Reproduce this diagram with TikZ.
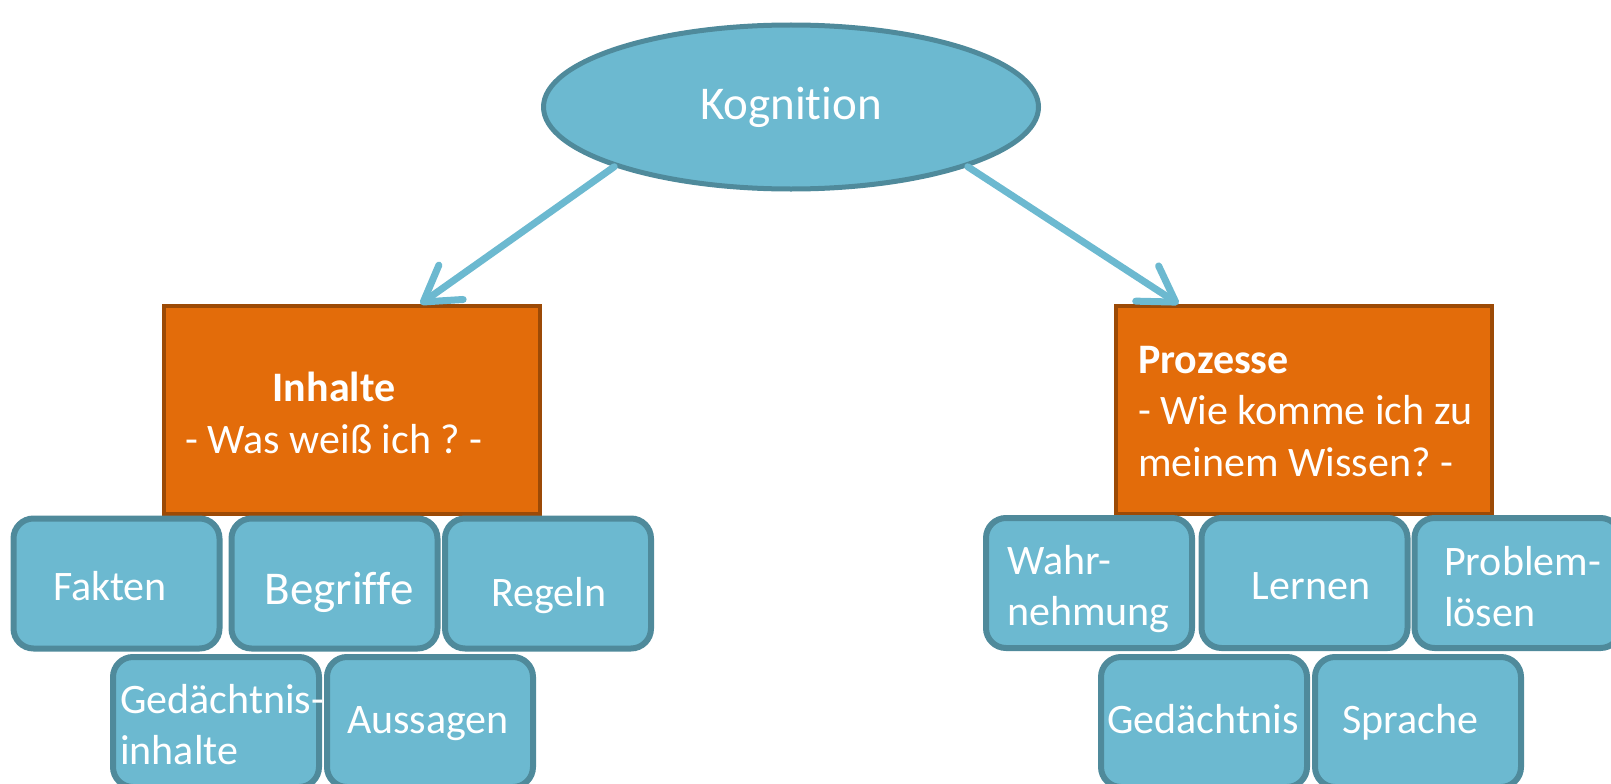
\documentclass[tikz,border=0pt]{standalone}
\usepackage{fontspec}
\setmainfont{Carlito}[RawFeature={-liga;-clig;-dlig}]
\usetikzlibrary{shapes.geometric,arrows.meta,calc}
\frenchspacing

\definecolor{kogblue}{HTML}{6CB9D0}
\definecolor{kogblueline}{HTML}{4F8A9B}
\definecolor{kogorange}{HTML}{E36C0A}
\definecolor{kogorangeline}{HTML}{9C4A06}

\begin{document}
\begin{tikzpicture}[x=1pt,y=-1pt,
  oval/.style={ellipse,fill=kogblue,draw=kogblueline,line width=5pt,
    minimum width=495pt,minimum height=164pt,inner sep=0pt,text=white,
    font=\fontsize{47}{56}\selectfont},
  mainbox/.style={rectangle,fill=kogorange,draw=kogorangeline,line width=4pt,
    minimum width=376pt,minimum height=208pt,inner sep=0pt},
  itembox/.style={rectangle,rounded corners=20pt,fill=kogblue,draw=kogblueline,
    line width=6pt,minimum width=206pt,minimum height=130pt,inner sep=0pt},
  boxtext/.style={text=white,inner sep=0pt,font=\fontsize{42}{51.5}\selectfont},
  kogarrow/.style={draw=kogblue,line width=7pt,line cap=round,
    -{Straight Barb[length=34pt,width=42pt,round]}}]
\useasboundingbox (0,0) rectangle (1611,784);

% Oberbegriff
\node[oval] (kog) at (791,107) {Kognition};

% Inhalte und Prozesse
\node[mainbox] (inh) at (352,410) {};
\node[mainbox] (pro) at (1304,410) {};
\node[boxtext,anchor=north,align=center] (inhtxt) at (334,372) {\textbf{Inhalte}\\- Was weiß ich ? -};
\node[boxtext,anchor=north west,align=left] (protxt) at (1138,346) {\textbf{Prozesse}\\- Wie komme ich zu\\meinem Wissen? -};

\coordinate (inhtip) at ($(inh.north west)!0.68!(inh.north east)$);
\coordinate (protip) at ($(pro.north west)!0.17!(pro.north east)$);
\draw[kogarrow] (kog.south west) -- (inhtip);
\draw[kogarrow] (kog.south east) -- (protip);

% Inhalte
\node[itembox] (fakten) at (116.5,583.5) {};
\node[itembox] (begriffe) at (334.5,583.5) {};
\node[itembox] (regeln) at (548,583.5) {};
\node[itembox] (gedinh) at (216,722) {};
\node[itembox] (aussagen) at (430,722) {};
\node[boxtext,anchor=base] (faktentxt) at (110,600) {Fakten};
\node[boxtext,anchor=base,font=\fontsize{47}{56}\selectfont] (begriffetxt) at (339,604) {Begriffe};
\node[boxtext,anchor=base] (regelntxt) at (549,606) {Regeln};
\node[boxtext,anchor=north west,align=left] (gedinhtxt) at (120,684) {Gedächtnis-\\inhalte};
\node[boxtext,anchor=base] (aussagentxt) at (428,733) {Aussagen};

% Prozesse
\node[itembox] (wahr) at (1089,583) {};
\node[itembox] (lernen) at (1304.5,583) {};
\node[itembox] (problem) at (1517.5,583) {};
\node[itembox] (ged) at (1204,722) {};
\node[itembox] (sprache) at (1418,722) {};
\node[boxtext,anchor=north west,align=left] (wahrtxt) at (1007,545) {Wahr-\\nehmung};
\node[boxtext,anchor=base] (lernentxt) at (1311,599) {Lernen};
\node[boxtext,anchor=north west,align=left] (problemtxt) at (1444,546) {Problem-\\lösen};
\node[boxtext,anchor=base] (gedtxt) at (1203,733) {Gedächtnis};
\node[boxtext,anchor=base] (sprachetxt) at (1410,733) {Sprache};

\end{tikzpicture}
\end{document}
